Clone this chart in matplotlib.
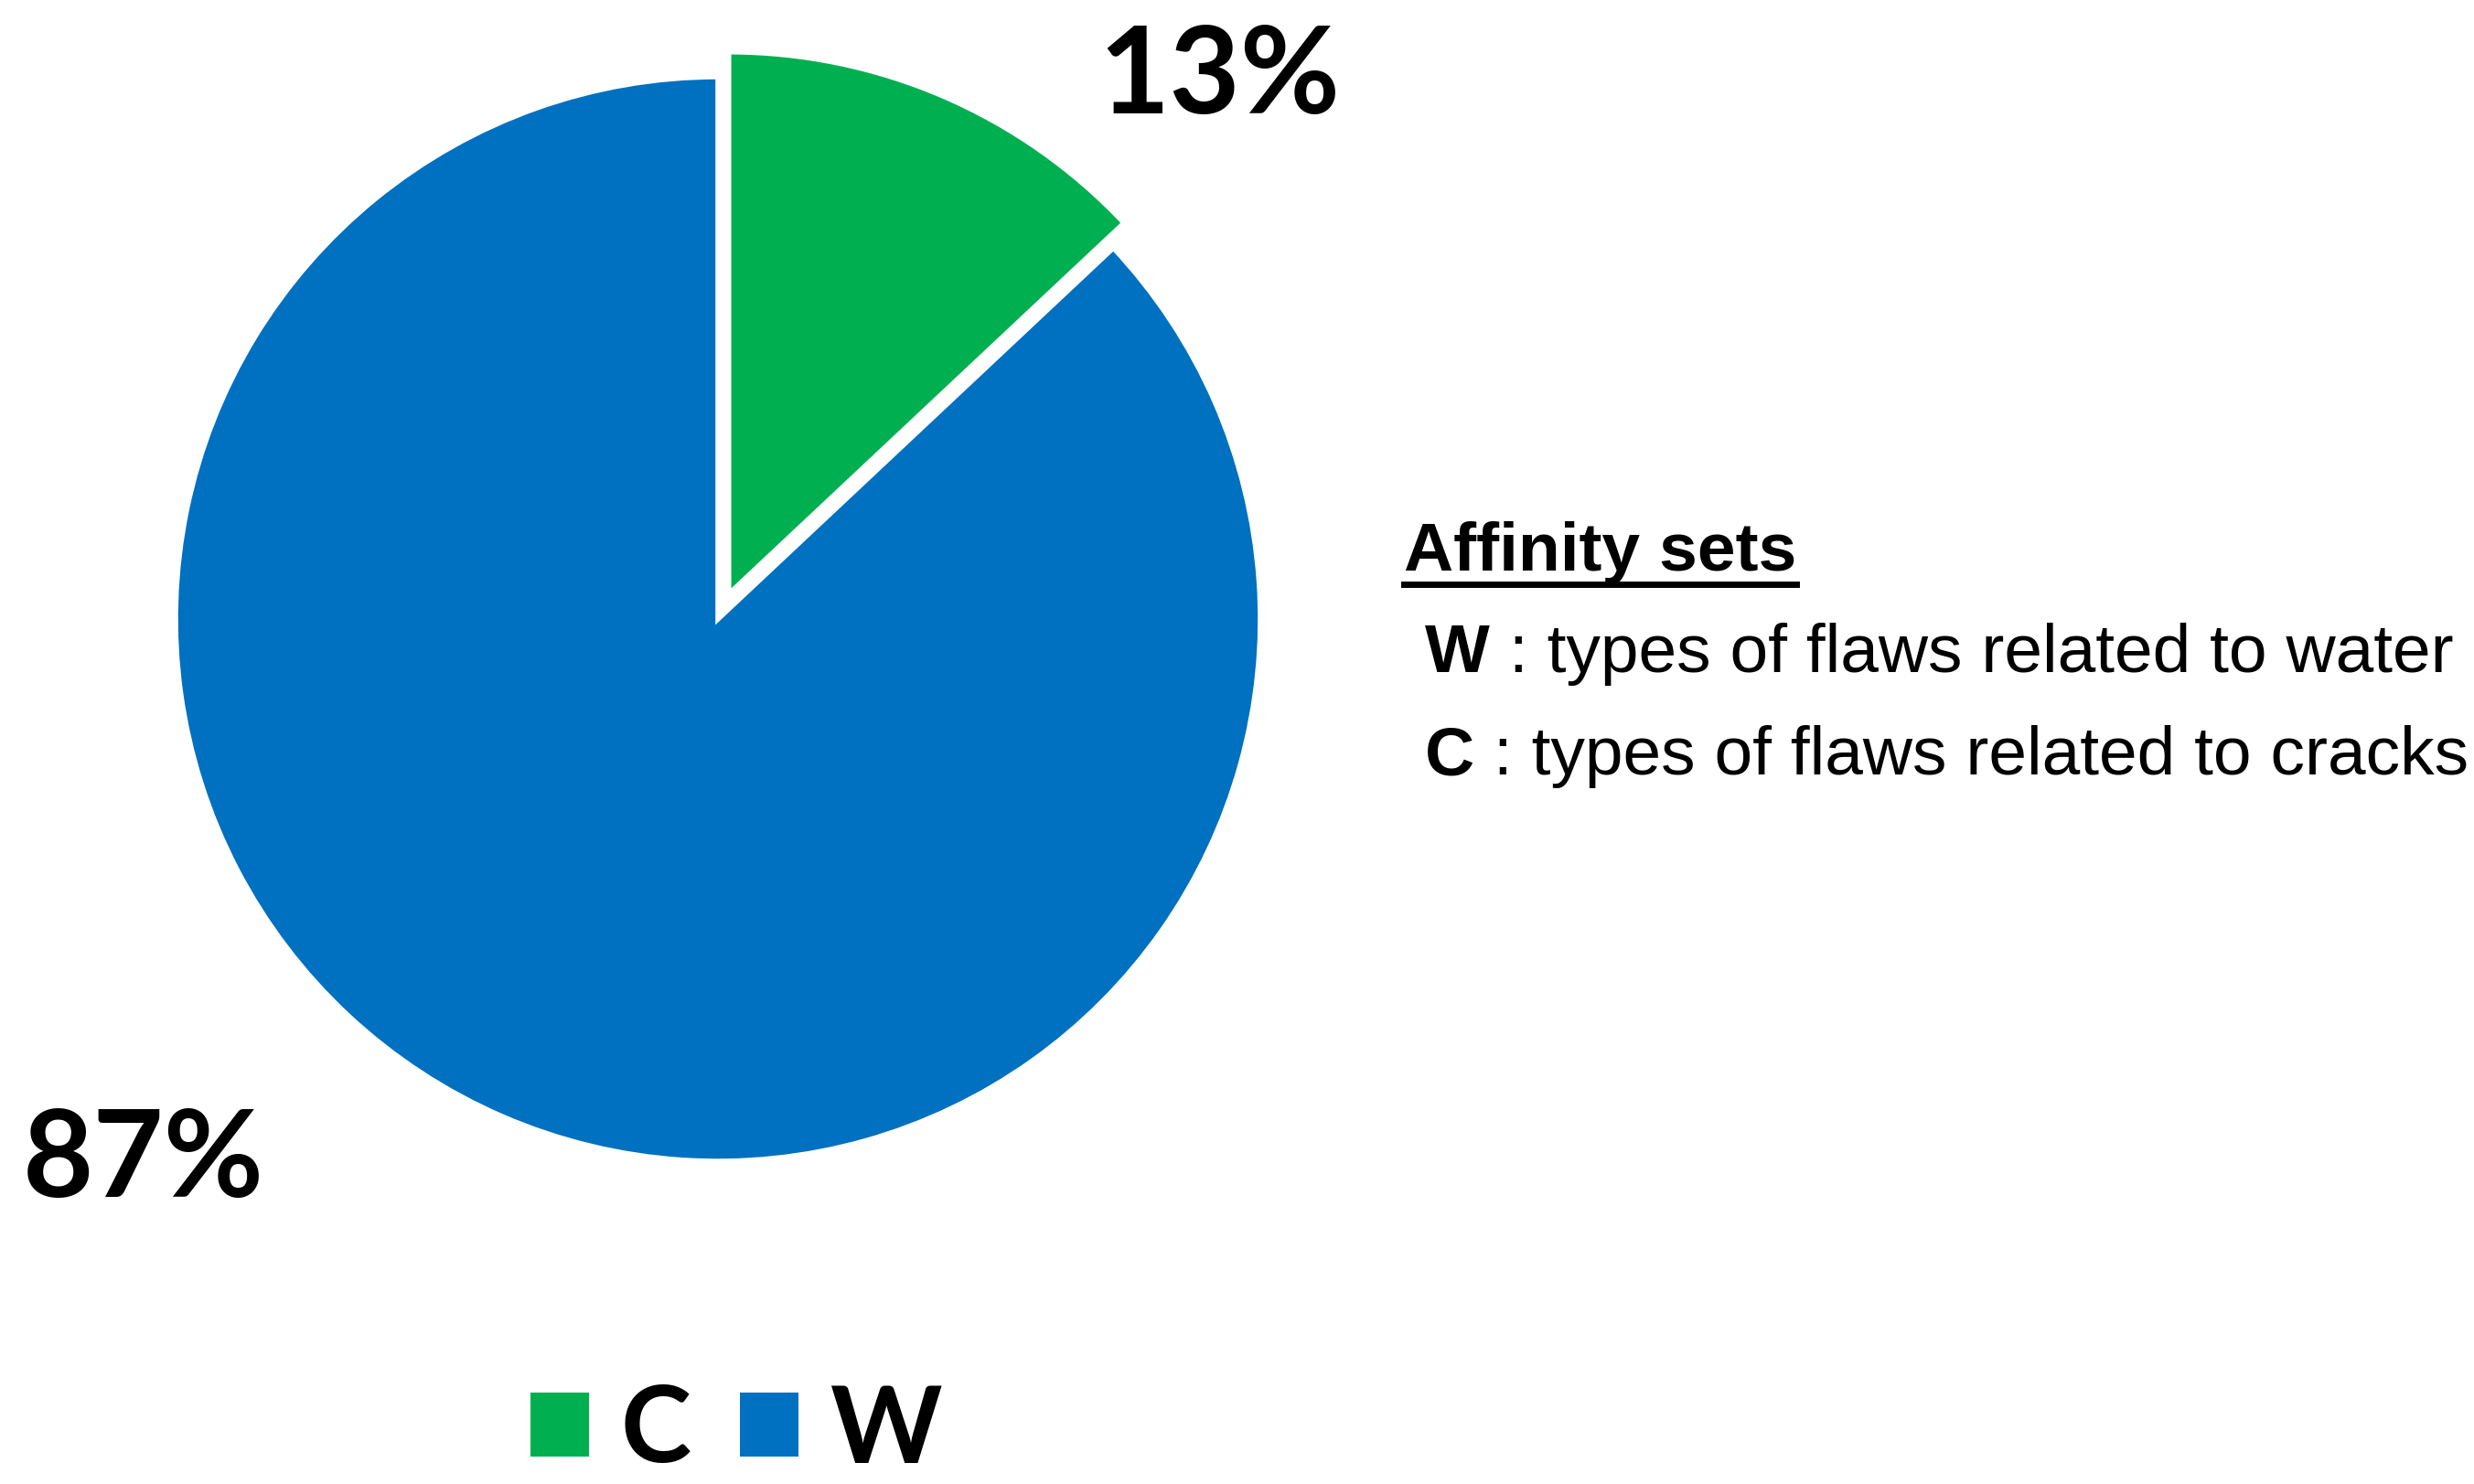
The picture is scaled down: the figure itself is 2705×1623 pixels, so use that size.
import matplotlib
matplotlib.use("Agg")
import matplotlib.pyplot as plt
from matplotlib.lines import Line2D

# data
labels = ["C", "W"]
shares = [13, 87]
colors = ["#00B050", "#0070C0"]
explode = [0.05, 0.0]

key_title = "Affinity sets"
key_items = [("W", " : types of flaws related to water"),
             ("C", " : types of flaws related to cracks")]

W, H = 2705, 1623


def fx(x):
    return x / W


def fy(y):
    return 1 - y / H


body_font = "Liberation Sans"
big_font = "Lato"

fig = plt.figure(figsize=(W / 100, H / 100), dpi=100)

# pie axes, centre at (785, 677) px, radius ~593 px
r = 593
lim = 1.2
ax = fig.add_axes([fx(785 - lim * r), fy(677 + lim * r),
                   2 * lim * r / W, 2 * lim * r / H])
wedges, _ = ax.pie(
    shares,
    colors=colors,
    explode=explode,
    startangle=90,
    counterclock=False,
    radius=1.0,
    wedgeprops=dict(edgecolor="white", linewidth=4),
)
ax.set_xlim(-lim, lim)
ax.set_ylim(-lim, lim)
ax.set_aspect("equal")
ax.axis("off")

# percentage labels
fig.text(fx(1333), fy(86), f"{shares[0]}%", fontsize=96, fontweight="bold",
         family=big_font, ha="center", va="center")
fig.text(fx(157), fy(1271), f"{shares[1]}%", fontsize=96, fontweight="bold",
         family=big_font, ha="center", va="center")

# legend under the pie
leg = fig.legend(
    wedges, labels,
    loc="center", bbox_to_anchor=(fx(805), fy(1566)),
    ncol=2, frameon=False,
    prop=dict(family=big_font, weight="bold", size=84),
    handlelength=0.55, handleheight=0.55,
    handletextpad=0.3, columnspacing=0.45,
)
for h in leg.legend_handles:
    h.set_edgecolor("none")

# affinity set key
title = fig.text(fx(1535), fy(624), key_title, fontsize=54, fontweight="bold",
                 family=body_font, ha="left", va="baseline")
rows_y = [750, 862]
for (k, desc), yy in zip(key_items, rows_y):
    t = fig.text(fx(1558), fy(yy), k, fontsize=54, fontweight="bold",
                 family=body_font, ha="left", va="bottom")
    ax.annotate(desc, xy=(1, 0), xycoords=t, fontsize=54, family=body_font,
                ha="left", va="bottom", annotation_clip=False)

fig.canvas.draw()
bb = title.get_window_extent()
fig.add_artist(Line2D([bb.x0 / W, bb.x1 / W], [fy(639), fy(639)],
                      transform=fig.transFigure, color="black", linewidth=5))

fig.savefig("out.png", dpi=100, facecolor="white")
